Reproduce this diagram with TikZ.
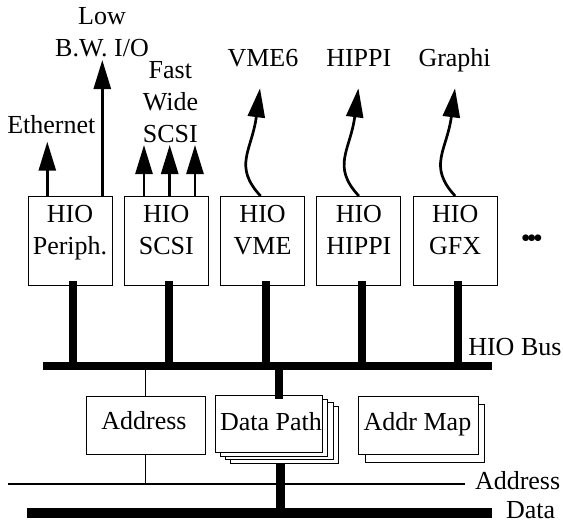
\documentclass[tikz,border=0pt]{standalone}
\usepackage{fontspec}
\setmainfont{Liberation Serif}
\usetikzlibrary{arrows.meta}
\begin{document}
\begin{tikzpicture}[x=1pt,y=-1pt,
  every node/.style={inner sep=0pt, outer sep=0pt},
  txt/.style={font=\fontsize{26}{32}\selectfont, align=center, anchor=base},
  hiobox/.style={draw, line width=1pt, fill=white, minimum width=84pt, minimum height=89pt},
  chip/.style={draw, line width=1pt, fill=white},
  fat/.style={line width=8pt},
  thin/.style={line width=1pt},
  up/.style={line width=2.7pt, -{Triangle[length=29pt,width=17pt]}},
  wavy/.style={up},
]
\useasboundingbox (0,0) rectangle (563,523);

% HIO boxes
\node[hiobox] (periph) at (70,240.5) {};
\node[hiobox] (scsi)   at (166.3,240.5) {};
\node[hiobox] (vme)    at (262.6,240.5) {};
\node[hiobox] (hippi)  at (358.9,240.5) {};
\node[hiobox] (gfx)    at (455.2,240.5) {};

\node[txt] (tperiph) at (70,254.3)    {HIO\\Periph.};
\node[txt] (tscsi)   at (166.3,254.3) {HIO\\SCSI};
\node[txt] (tvme)    at (262.6,254.3) {HIO\\VME};
\node[txt] (thippi)  at (358.9,254.3) {HIO\\HIPPI};
\node[txt] (tgfx)    at (455.2,254.3) {HIO\\GFX};

\node[font=\fontsize{28}{30}\selectfont] (dots) at (531.8,241.5) {•\kern-3.7pt•\kern-3.7pt•};

% top labels
\node[txt, anchor=base west] (leth) at (7.3,133.3) {Ethernet};
\node[txt] (llow)  at (102,56.8)    {Low\\B.W. I/O};
\node[txt] (lfast) at (170.4,142.3) {Fast\\Wide\\SCSI};
\node[txt] (lvme)  at (263,66.7)  {VME6};
\node[txt] (lhip)  at (358.8,66.7) {HIPPI};
\node[txt] (lgra)  at (454.6,66.7) {Graphi};

% straight arrows
\coordinate (eth) at (47.3,141.7);
\coordinate (low) at (102.3,60);
\coordinate (s1) at (144,145);
\coordinate (s2) at (169.7,145);
\coordinate (s3) at (195,145);
\draw[up] (periph.north -| eth) -- (eth);
\draw[up] (periph.north -| low) -- (low);
\draw[up] (scsi.north -| s1) -- (s1);
\draw[up] (scsi.north -| s2) -- (s2);
\draw[up] (scsi.north -| s3) -- (s3);

% wavy arrows
\coordinate (tv) at (260,88.3);
\coordinate (th) at (358.4,88.3);
\coordinate (tg) at (455,88.3);
\draw[wavy] ([xshift=-2pt]vme.north) .. controls +(-28,-30) and +(-8,62) .. (tv);
\draw[wavy] (hippi.north) .. controls +(-28,-30) and +(-8,62) .. (th);
\draw[wavy] (gfx.north)   .. controls +(-28,-30) and +(-8,62) .. (tg);

% HIO bus
\coordinate (hl) at (43.3,366);
\coordinate (hr) at (492.3,366);
\draw[line width=7.7pt] (hl) -- (hr);
\node[txt, anchor=base west] (lhio) at (468.3,355) {HIO Bus};
\foreach \b in {periph,scsi,vme,hippi,gfx}
  \draw[fat] ([xshift=3pt,yshift=4pt]\b.south) -- ([xshift=3pt]\b.south |- hl);

% Address box
\node[chip, minimum width=119pt, minimum height=57.6pt] (addr) at (145.7,425.5) {};
\node[txt] (taddr) at (144,429) {Address};

% Data path stack
\foreach \k in {3,2,1}
  \node[chip, minimum width=107.7pt, minimum height=57pt] (dp\k) at (268.85+5.2*\k,424.2+3.5*\k) {};
\node[chip, minimum width=107.7pt, minimum height=57pt] (dp) at (268.85,424.2) {};
\node[txt] (tdp) at (271,430) {Data Path};

% Addr map
\node[chip, minimum width=119.3pt, minimum height=57.6pt] (amap2) at (424.85,433.2) {};
\node[chip, minimum width=119.3pt, minimum height=57.6pt] (amap) at (418.35,425.5) {};
\node[txt] (tamap) at (417.5,430) {Addr Map};

% buses below
\coordinate (al) at (8.3,484);
\coordinate (ar) at (465,484);
\coordinate (dl) at (27.3,513);
\coordinate (dr) at (492.3,513);
\draw[line width=1.5pt] (al) -- (ar);
\draw[line width=10pt] (dl) -- (dr);
\node[txt, anchor=base west] (laddr) at (475,489.3) {Address};
\node[txt, anchor=base west] (ldata) at (506,518.3) {Data};

% connectors
\draw[thin] (addr.north) -- (addr.north |- hl);
\draw[thin] (addr.south) -- (addr.south |- al);
\draw[fat] ([xshift=10.2pt,yshift=-3.3pt]dp.north) -- ([xshift=10.2pt]dp.north |- hl);
\draw[line width=9pt] ([xshift=-3.5pt]dp3.south) -- ([xshift=-3.5pt]dp3.south |- dl);
\end{tikzpicture}
\end{document}
